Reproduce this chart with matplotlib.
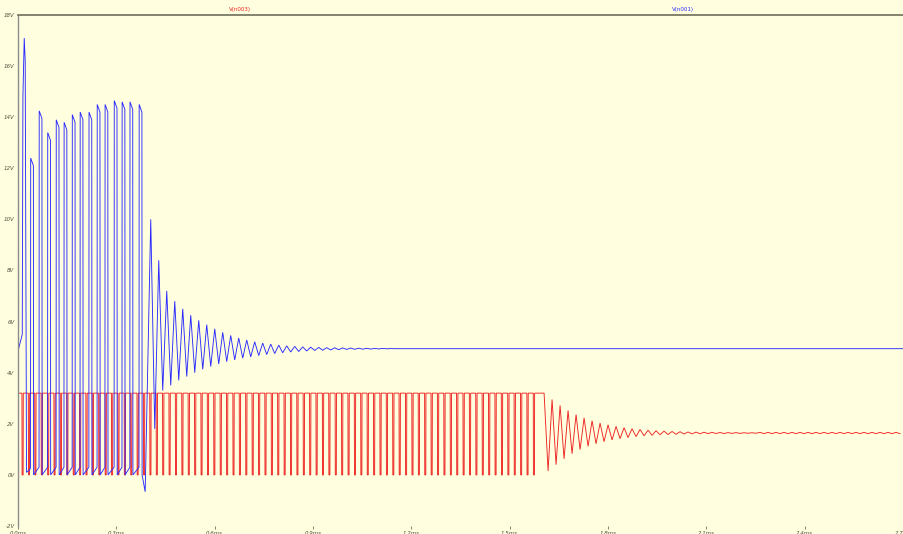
import numpy as np
import matplotlib
matplotlib.use("Agg")
import matplotlib.pyplot as plt

# ---------------- axis data ----------------
x_ticks_ms = [0.0, 0.3, 0.6, 0.9, 1.2, 1.5, 1.8, 2.1, 2.4, 2.7]
x_tick_labels = ["0.0ms", "0.3ms", "0.6ms", "0.9ms", "1.2ms", "1.5ms",
                 "1.8ms", "2.1ms", "2.4ms", "2.7ms"]
y_ticks_v = [-2, 0, 2, 4, 6, 8, 10, 12, 14, 16, 18]
y_tick_labels = ["-2V", "0V", "2V", "4V", "6V", "8V", "10V", "12V", "14V", "16V", "18V"]
trace_names = ["V(n003)", "V(n001)"]
t_end = 2.7

# ---------------- blue trace V(n001) ----------------
blue_start_t = [0.0, 0.001, 0.013, 0.015, 0.019, 0.022, 0.026, 0.036]
blue_start_v = [0.0, 4.9, 5.5, 14.8, 17.1, 16.2, 0.1, 0.2]
blue_pulse_t = [0.047, 0.073, 0.099, 0.125, 0.149, 0.174, 0.198,
                0.225, 0.250, 0.274, 0.302, 0.326, 0.350, 0.378]
blue_pulse_peak = [12.4, 14.25, 13.4, 13.9, 13.8, 14.1, 14.2,
                   14.2, 14.5, 14.5, 14.65, 14.6, 14.6, 14.5]
blue_dip_t, blue_dip_v = 0.388, -0.66
blue_ring_t0 = 0.405
blue_ring_period = 0.0244
blue_ring_hi = [10.0, 8.4, 7.2, 6.8, 6.5, 6.25, 6.05, 5.88, 5.72, 5.58,
                5.46, 5.36, 5.28, 5.21, 5.16, 5.12, 5.08, 5.05, 5.03, 5.01,
                5.0, 4.99, 4.98, 4.975, 4.97, 4.965, 4.96, 4.955, 4.95, 4.95, 4.945]
blue_ring_lo = [1.8, 3.3, 3.5, 3.7, 3.85, 4.0, 4.13, 4.24, 4.34, 4.43,
                4.5, 4.57, 4.62, 4.67, 4.71, 4.75, 4.78, 4.81, 4.83, 4.85,
                4.87, 4.88, 4.89, 4.9, 4.91, 4.915, 4.92, 4.925, 4.93, 4.935, 4.94]
blue_final = 4.94

# ---------------- red trace V(n003) ----------------
red_high, red_low = 3.2, 0.0
red_sw_t0 = 0.012
red_sw_period = 0.0195
red_sw_low_time = 0.0036
red_sw_count = 81
red_ring_t0 = 1.605
red_ring_period = 0.0244
red_ring_hi = [3.2, 2.95, 2.72, 2.52, 2.36, 2.23, 2.12, 2.03, 1.96, 1.9,
               1.85, 1.81, 1.78, 1.75, 1.73, 1.715, 1.7, 1.69, 1.68, 1.675,
               1.67, 1.665, 1.66, 1.655, 1.655, 1.65, 1.65]
red_ring_lo = [0.15, 0.4, 0.63, 0.83, 0.99, 1.12, 1.22, 1.3, 1.37, 1.42,
               1.46, 1.5, 1.53, 1.55, 1.57, 1.58, 1.59, 1.6, 1.605, 1.61,
               1.615, 1.62, 1.62, 1.625, 1.625, 1.63, 1.63]
red_final = 1.64
red_tail_ripple = 0.025

# ---------------- build blue polyline ----------------
bt = list(blue_start_t)
bv = list(blue_start_v)
for tp, pk in zip(blue_pulse_t, blue_pulse_peak):
    bt += [tp - 0.0088, tp - 0.0083, tp, tp + 0.0006]
    bv += [0.3, pk, pk - 0.3, 0.0]
bt += [blue_dip_t]
bv += [blue_dip_v]
for k, (hi, lo) in enumerate(zip(blue_ring_hi, blue_ring_lo)):
    t0 = blue_ring_t0 + k * blue_ring_period
    bt += [t0, t0 + blue_ring_period / 2]
    bv += [hi, lo]
bt += [blue_ring_t0 + len(blue_ring_hi) * blue_ring_period, t_end]
bv += [blue_final, blue_final]

# ---------------- build red polyline ----------------
rt = [0.0, 0.0003]
rv = [red_low, red_high]
for k in range(red_sw_count):
    td = red_sw_t0 + k * red_sw_period
    rt += [td, td + 0.0005, td + red_sw_low_time, td + red_sw_low_time + 0.0005]
    rv += [red_high, red_low, red_low, red_high]
for k, (hi, lo) in enumerate(zip(red_ring_hi, red_ring_lo)):
    t0 = red_ring_t0 + k * red_ring_period
    rt += [t0, t0 + red_ring_period / 2]
    rv += [hi, lo]
t = red_ring_t0 + len(red_ring_hi) * red_ring_period
while t < t_end:
    rt += [t, min(t + red_ring_period / 2, t_end)]
    rv += [red_final + red_tail_ripple, red_final - red_tail_ripple]
    t += red_ring_period

# ---------------- figure ----------------
bg = "#FFFFDF"
fig = plt.figure(figsize=(9.04, 5.34), dpi=100, facecolor=bg)
W, H = 904, 534
ax = fig.add_axes([18 / W, (H - 526) / H, 885 / W, 511 / H], facecolor=bg)

ax.plot(rt, rv, color="#EE2222", lw=0.65, solid_joinstyle="miter")
ax.plot(bt, bv, color="#2A2AFF", lw=0.65, solid_joinstyle="miter")

ax.set_xlim(0, t_end)
ax.set_ylim(-2, 18)
ax.set_xticks(x_ticks_ms)
ax.set_xticklabels(x_tick_labels)
ax.set_yticks(y_ticks_v)
ax.set_yticklabels(y_tick_labels)
ax.tick_params(axis="x", length=2.5, width=0.6, color="#707060", pad=1.2,
               labelsize=4, labelcolor="#505040")
ax.tick_params(axis="y", length=0, pad=2.5, labelsize=4, labelcolor="#505040")
for lab in ax.get_yticklabels() + ax.get_xticklabels():
    lab.set_fontstyle("italic")

for s in ["right", "bottom"]:
    ax.spines[s].set_visible(False)
ax.spines["left"].set_color("#8C8C8C")
ax.spines["left"].set_linewidth(1.0)
ax.spines["top"].set_color("#6E6E5A")
ax.spines["top"].set_linewidth(1.2)

fig.text(240 / W, 1 - 10 / H, trace_names[0], color="#EE2222", fontsize=4,
         ha="center", va="center")
fig.text(683 / W, 1 - 10 / H, trace_names[1], color="#2A2AFF", fontsize=4,
         ha="center", va="center")

fig.savefig("out.png", dpi=100, facecolor=bg)
